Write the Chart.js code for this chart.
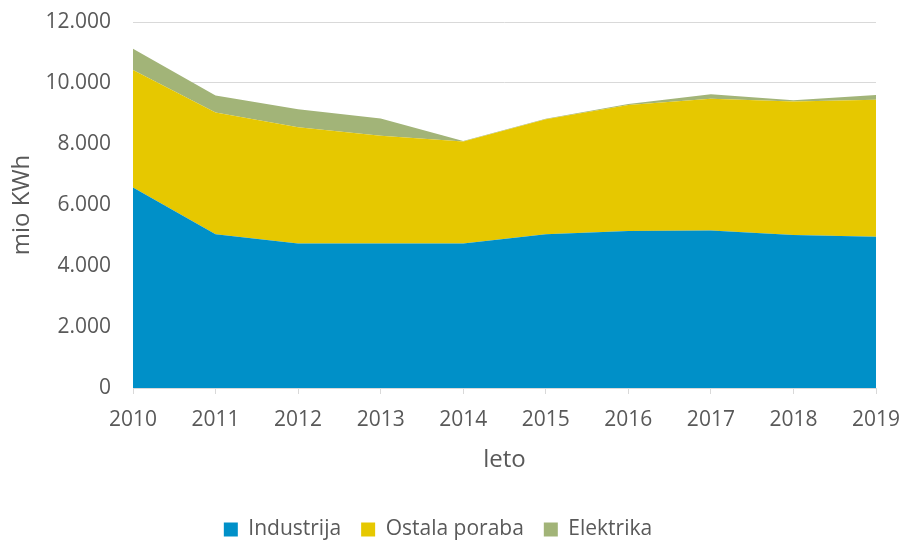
<!DOCTYPE html>
<html>
<head>
<meta charset="utf-8">
<script src="https://cdn.jsdelivr.net/npm/chart.js@4.4.1/dist/chart.umd.min.js"></script>
<style>
  html, body { margin: 0; padding: 0; background: #fff; }
  #wrap { width: 902px; height: 542px; }
</style>
</head>
<body>
<div id="wrap"><canvas id="chart" width="902" height="542"></canvas></div>
<script>
const years = ['2010', '2011', '2012', '2013', '2014', '2015', '2016', '2017', '2018', '2019'];
const industrija = [6570, 5040, 4740, 4740, 4740, 5040, 5150, 5160, 5020, 4960];
const ostalaPoraba = [3860, 3990, 3810, 3530, 3340, 3770, 4130, 4320, 4370, 4490];
const elektrika = [690, 560, 590, 570, 15, 20, 30, 155, 45, 155];

const textColor = '#595959';
const font = 'Open Sans';

const fmt = (v) => v.toLocaleString('de-DE');

const ctx = document.getElementById('chart').getContext('2d');
new Chart(ctx, {
    type: 'line',
    data: {
        labels: years,
        datasets: [
            {
                label: 'Industrija',
                data: industrija,
                backgroundColor: '#0090C8',
                borderWidth: 0,
                fill: 'origin',
            },
            {
                label: 'Ostala poraba',
                data: ostalaPoraba,
                backgroundColor: '#E6C800',
                borderWidth: 0,
                fill: '-1',
            },
            {
                label: 'Elektrika',
                data: elektrika,
                backgroundColor: '#A2B478',
                borderWidth: 0,
                fill: '-1',
            },
        ],
    },
    options: {
        responsive: false,
        animation: false,
        elements: {
            point: { radius: 0, hoverRadius: 0 },
            line: { tension: 0 },
        },
        layout: {
            padding: { top: 22, right: 26, bottom: -8, left: 0 },
        },
        plugins: {
            tooltip: { enabled: false },
            legend: {
                position: 'bottom',
                labels: {
                    boxWidth: 14,
                    boxHeight: 14,
                    padding: 20,
                    color: textColor,
                    font: { family: font, size: 21 },
                },
            },
        },
        scales: {
            x: {
                grid: {
                    drawOnChartArea: false,
                    drawTicks: true,
                    tickLength: 6,
                    color: '#d9d9d9',
                },
                border: { color: '#d9d9d9', width: 1 },
                ticks: {
                    color: textColor,
                    padding: 13,
                    maxRotation: 0,
                    font: { family: font, size: 21 },
                },
                title: {
                    display: true,
                    text: 'leto',
                    color: textColor,
                    padding: { top: 4, bottom: 24 },
                    font: { family: font, size: 24 },
                },
                afterFit: (scale) => {
                    scale.height = 111;
                    scale.paddingLeft = 0;
                    scale.paddingRight = 0;
                },
            },
            y: {
                stacked: true,
                min: 0,
                max: 12000,
                grid: {
                    color: '#d9d9d9',
                    drawTicks: false,
                },
                border: { display: false },
                ticks: {
                    stepSize: 2000,
                    color: textColor,
                    padding: 22,
                    font: { family: font, size: 21 },
                    callback: (v) => fmt(v),
                },
                title: {
                    display: true,
                    text: 'mio KWh',
                    color: textColor,
                    padding: { top: 8, bottom: 4 },
                    font: { family: font, size: 24 },
                },
                afterFit: (scale) => {
                    scale.width = 133;
                    scale.paddingTop = 0;
                    scale.paddingBottom = 0;
                },
            },
        },
    },
});
</script>
</body>
</html>
